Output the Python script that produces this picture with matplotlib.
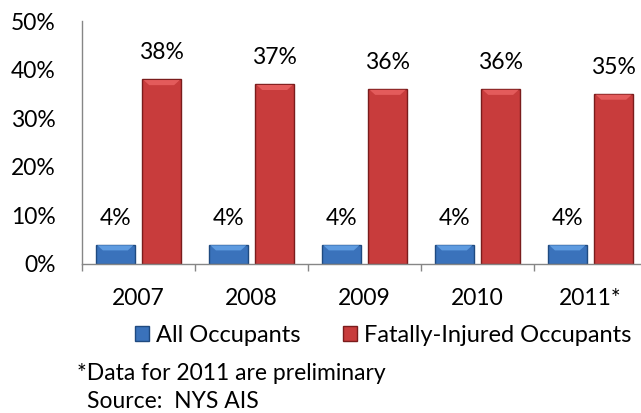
import numpy as np
import matplotlib.pyplot as plt
from matplotlib.patches import Patch, Polygon

# Share of occupants, by year
years = ['2007', '2008', '2009', '2010', '2011*']
all_occupants = [4, 4, 4, 4, 4]
fatally_injured = [38, 37, 36, 36, 35]
series_names = ['All Occupants', 'Fatally-Injured Occupants']
y_ticks = [0, 10, 20, 30, 40, 50]

blue = '#3a72bb'
blue_top = '#5e9be0'
blue_edge = '#1f4a80'
red = '#c83c3c'
red_top = '#e35b5b'
red_edge = '#7a1c1c'

plt.rcParams['font.family'] = ['Lato', 'DejaVu Sans']
fs = 16.5

fig = plt.figure(figsize=(6.41, 4.13), dpi=100)
ax = fig.add_axes([82 / 641, 149 / 413, 565 / 641, 243 / 413])

x = np.arange(len(years))
w = 0.34
off = 0.205
b1 = ax.bar(x - off, all_occupants, w, color=blue, edgecolor=blue_edge, linewidth=1.0)
b2 = ax.bar(x + off, fatally_injured, w, color=red, edgecolor=red_edge, linewidth=1.0)

# bevelled highlight along the top of each bar, plus value label
bevel_h = 1.2
bevel_in = 0.06
for bars, vals, top in ((b1, all_occupants, blue_top), (b2, fatally_injured, red_top)):
    for rect, v in zip(bars, vals):
        x0 = rect.get_x()
        x1 = x0 + rect.get_width()
        ax.add_patch(Polygon([(x0 + 0.01, v - 0.15), (x1 - 0.01, v - 0.15),
                              (x1 - bevel_in, v - bevel_h), (x0 + bevel_in, v - bevel_h)],
                             closed=True, facecolor=top, edgecolor='none', zorder=3))
        ax.annotate(f'{v}%', ((x0 + x1) / 2, v),
                    xytext=(0, 19), textcoords='offset points',
                    ha='center', va='center', fontsize=fs)

ax.set_xlim(-0.5, len(years) - 0.5)
ax.set_ylim(0, 50)
ax.set_yticks(y_ticks)
ax.set_yticklabels([f'{t}%' for t in y_ticks], fontsize=fs)
ax.tick_params(axis='y', length=0, pad=19)

# category labels centred, tick marks on the boundaries
ax.set_xticks(x)
ax.set_xticklabels(years, fontsize=fs)
ax.set_xticks(np.arange(len(years) + 1) - 0.5, minor=True)
ax.tick_params(axis='x', which='major', length=0, pad=17)
ax.tick_params(axis='x', which='minor', length=5, color='#868686', width=1)

for side in ('top', 'right'):
    ax.spines[side].set_visible(False)
for side in ('left', 'bottom'):
    ax.spines[side].set_color('#868686')
    ax.spines[side].set_linewidth(1)

handles = [Patch(facecolor=blue, edgecolor=blue_edge), Patch(facecolor=red, edgecolor=red_edge)]
fig.legend(handles, series_names, loc='center', bbox_to_anchor=(383 / 641, 78 / 413),
           ncol=2, frameon=False, fontsize=17, handlelength=0.6, handleheight=0.6,
           handletextpad=0.3, columnspacing=1.8, borderpad=0)

fig.text(77 / 641, 39 / 413, '*Data for 2011 are preliminary', fontsize=fs, va='center')
fig.text(87 / 641, 11 / 413, 'Source:  NYS AIS', fontsize=fs, va='center')

plt.savefig('out.png', dpi=100)
